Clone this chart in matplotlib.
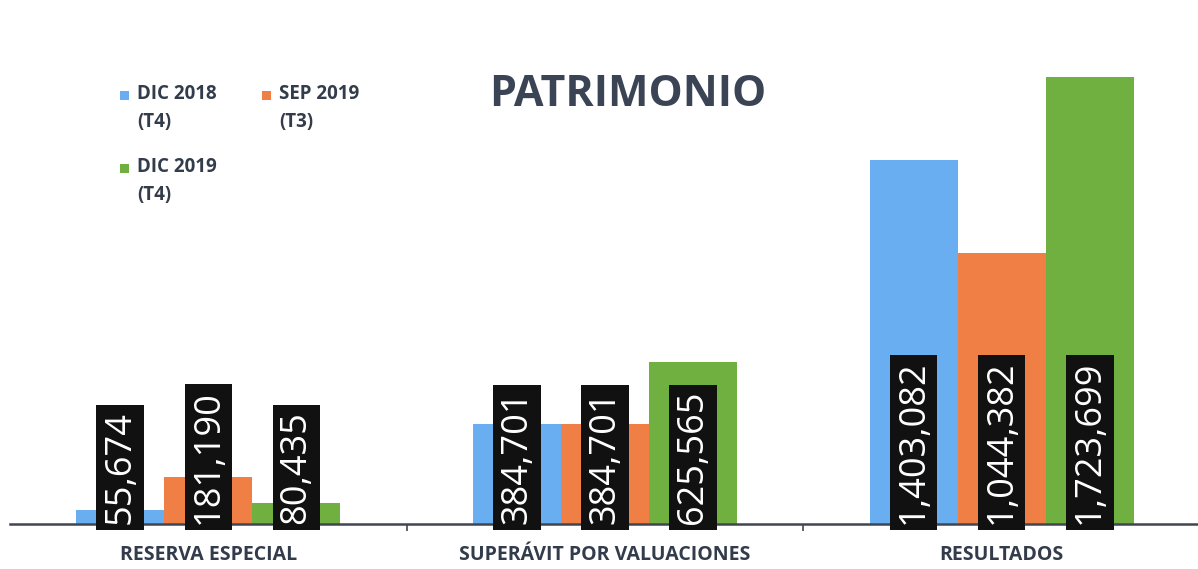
import matplotlib
matplotlib.use("Agg")
import matplotlib.pyplot as plt
from matplotlib.patches import Rectangle
import numpy as np

categories = ["RESERVA ESPECIAL", "SUPERÁVIT POR VALUACIONES", "RESULTADOS"]
series_names = ["DIC 2018\n(T4)", "SEP 2019\n(T3)", "DIC 2019\n(T4)"]
dic2018 = [55674, 384701, 1403082]
sep2019 = [181190, 384701, 1044382]
dic2019 = [80435, 625565, 1723699]
colors = ["#6aaef2", "#f07f45", "#6fb040"]

W, H = 1198, 569
fig = plt.figure(figsize=(W / 100, H / 100), dpi=100)
fig.patch.set_facecolor("white")
ax = fig.add_axes([10 / W, 1 - 524 / H, 1190 / W, 504 / H])
ax.set_facecolor("white")

x = np.arange(len(categories))
bw = 0.222
series = [dic2018, sep2019, dic2019]
bars = []
for i, (vals, c, nm) in enumerate(zip(series, colors, series_names)):
    b = ax.bar(x + (i - 1) * bw, vals, width=bw, color=c, label=nm, zorder=2)
    bars.append(b)
    for xi, v in zip(x + (i - 1) * bw, vals):
        ax.text(xi, 0, f"{v:,}", rotation=90, ha="center", va="bottom",
                color="white", fontsize=26, family="Open Sans", zorder=4,
                bbox=dict(boxstyle="square,pad=0.16", fc="#111111", ec="none"))

ax.set_xlim(-0.5, 2.5)
ax.set_ylim(0, 504 / 447 * 1723699)
for s in ["top", "right", "left"]:
    ax.spines[s].set_visible(False)
ax.spines["bottom"].set_color("#404552")
ax.spines["bottom"].set_linewidth(1.8)
ax.set_yticks([])
ax.set_xticks([0.5, 1.5], minor=False)
ax.set_xticklabels(["", ""])
ax.tick_params(axis="x", length=5, width=1.2, color="#404552")
for xi, c in zip(x, categories):
    ax.text(xi, -0.062, c, transform=ax.get_xaxis_transform(), ha="center", va="center",
            fontsize=14, fontweight="bold", color="#333c4b", family="Open Sans")

fig.text(628 / W, 1 - 95 / H, "PATRIMONIO", ha="center", va="center", fontsize=31,
         fontweight="bold", color="#3b4454", family="Open Sans")

# legend (manual layout: marker aligned with first text line)
leg_pos = [(120, 95), (262, 95), (120, 168)]
for (px, py), c, nm in zip(leg_pos, colors, series_names):
    fig.patches.append(Rectangle((px / W, 1 - (py + 4.5) / H), 9 / W, 9 / H,
                                 transform=fig.transFigure, fc=c, ec="none"))
    fig.text((px + 17) / W, 1 - (py - 11) / H, nm, ha="left", va="top",
             fontsize=13.5, fontweight="bold", color="#333c4b", family="Open Sans",
             linespacing=1.55)

fig.savefig("out.png", dpi=100, facecolor="white")
